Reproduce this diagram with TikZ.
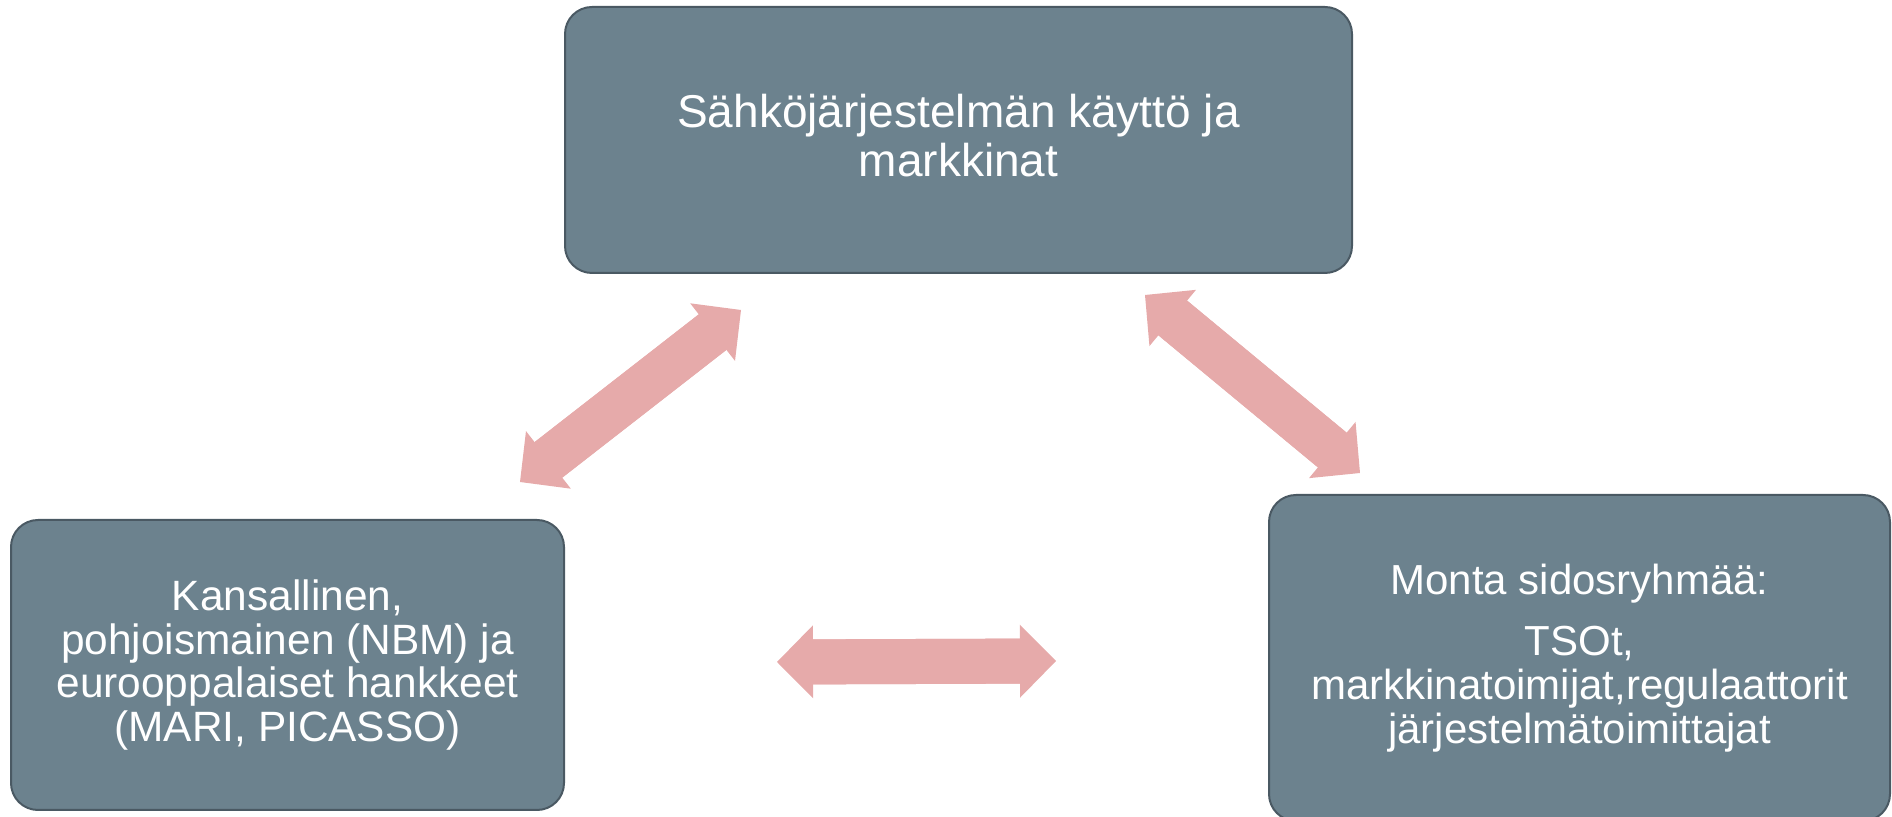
\documentclass[tikz,border=0pt]{standalone}
\usepackage{fontspec}
\setmainfont{Liberation Sans}
\usetikzlibrary{arrows.meta}

\definecolor{slatefill}{RGB}{108,130,142}
\definecolor{slateline}{RGB}{74,89,99}
\definecolor{arrowpink}{RGB}{230,170,170}

\tikzset{
    box/.style={draw=slateline, fill=slatefill, line width=1pt, rounded corners=13.5pt,
        text=white, align=center, inner sep=0pt},
    boxtext/.style={text=white, align=center, inner sep=0pt},
    dblarrow/.style={draw=arrowpink, line width=22.5pt,
        {Triangle[width=36.5pt, length=18pt, line width=0pt]}-{Triangle[width=36.5pt, length=18pt, line width=0pt]},
        preaction={draw=arrowpink, line width=22.5pt, arrows=-, shorten <=15pt, shorten >=15pt}},
}

\begin{document}
\begin{tikzpicture}[x=0.5pt, y=-0.5pt]
    % \draw[help lines, step=100] (0,0) grid (1892,817);
    \useasboundingbox (0,0) rectangle (1892,817);

    \node[box, minimum width=393.5pt, minimum height=133pt] (ops) at (958.5,140) {};
    \node[boxtext, font=\fontsize{23pt}{24.5pt}\selectfont] (opstext) at ([yshift=2pt]ops.center)
        {Sähköjärjestelmän käyttö ja\\markkinat};
    \node[box, minimum width=276.5pt, minimum height=145pt,
        font=\fontsize{21.2pt}{21.8pt}\selectfont] (proj) at (287.5,665)
        {Kansallinen,\\pohjoismainen (NBM) ja\\eurooppalaiset hankkeet\\(MARI, PICASSO)};
    \node[box, minimum width=310.5pt, minimum height=163pt,
        font=\fontsize{21pt}{22pt}\selectfont] (stake) at (1579.5,658)
        {Monta sidosryhmää:\\[8.5pt]TSOt,\\markkinatoimijat,regulaattorit\\järjestelmätoimittajat};

    \coordinate (l1) at (520,482);
    \coordinate (l2) at (741,310);
    \coordinate (r1) at (1145,295);
    \coordinate (r2) at (1360,473);
    \coordinate (b1) at (777,662);
    \coordinate (b2) at (1056,661);

    \draw[dblarrow] (l1) -- (l2);
    \draw[dblarrow] (r1) -- (r2);
    \draw[dblarrow] (b1) -- (b2);

\end{tikzpicture}
\end{document}
